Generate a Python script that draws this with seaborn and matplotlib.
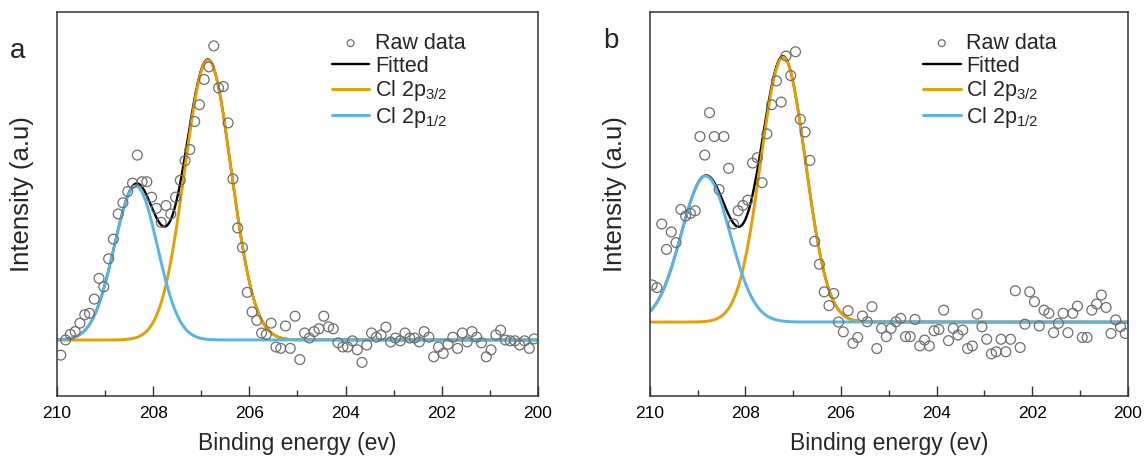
import numpy as np
import pandas as pd
import matplotlib
matplotlib.use('Agg')
import matplotlib.pyplot as plt
from matplotlib.ticker import MultipleLocator
import seaborn as sns

# raw data, 0.1 eV steps
energy_a = np.linspace(209.92, 200.08, 100)
intensity_a = [
    -0.054, 0.0, 0.02, 0.03, 0.06, 0.09, 0.095, 0.146, 0.22, 0.19,
    0.29, 0.36, 0.45, 0.49, 0.53, 0.56, 0.66, 0.565, 0.565, 0.51,
    0.47, 0.42, 0.48, 0.45, 0.51, 0.57, 0.64, 0.68, 0.78, 0.84,
    0.93, 0.975, 1.05, 0.90, 0.905, 0.775, 0.575, 0.40, 0.33, 0.17,
    0.10, 0.07, 0.025, 0.02, 0.06, -0.025, -0.03, 0.05, -0.03, 0.085,
    -0.07, 0.025, 0.007, 0.03, 0.04, 0.085, 0.047, 0.04, -0.01, -0.025,
    -0.025, -0.003, -0.035, -0.08, -0.018, 0.025, 0.01, 0.018, 0.046, -0.007,
    0.007, -0.003, 0.025, 0.007, 0.007, -0.007, 0.03, 0.01, -0.06, -0.025,
    -0.048, -0.015, 0.01, -0.03, 0.025, -0.007, 0.03, 0.01, -0.01, -0.06,
    -0.035, 0.018, 0.035, 0.0, -0.003, -0.003, -0.018, -0.003, -0.03, 0.004,
]
energy_b = np.linspace(209.95, 200.05, 100)
intensity_b = [
    0.14, 0.13, 0.37, 0.274, 0.34, 0.30, 0.425, 0.40, 0.41, 0.42,
    0.70, 0.63, 0.79, 0.70, 0.50, 0.70, 0.58, 0.37, 0.42, 0.44,
    0.46, 0.60, 0.62, 0.526, 0.71, 0.82, 0.91, 0.83, 1.004, 0.93,
    1.02, 0.765, 0.717, 0.61, 0.305, 0.218, 0.114, 0.062, 0.108, 0.0,
    -0.037, 0.043, -0.08, -0.058, 0.023, 0.001, 0.058, -0.1, -0.024, -0.055,
    -0.024, 0.001, 0.014, -0.055, -0.055, 0.01, -0.09, -0.068, -0.09, -0.033,
    -0.028, 0.045, -0.07, -0.024, -0.049, -0.03, -0.1, -0.09, 0.03, -0.018,
    -0.065, -0.12, -0.112, -0.065, -0.112, -0.065, 0.118, -0.096, -0.008, 0.114,
    0.077, -0.015, 0.045, 0.033, -0.04, -0.005, 0.033, -0.04, 0.033, 0.06,
    -0.058, -0.058, 0.045, 0.068, 0.102, 0.055, -0.043, 0.008, -0.018, -0.043,
]

# fitted Gaussian peaks: [Cl 2p3/2, Cl 2p1/2]
centre_a = [206.86, 208.36]
height_a = [1.0, 0.55]
sigma_a = [0.485, 0.45]
centre_b = [207.21, 208.83]
height_b = [1.0, 0.551]
sigma_b = [0.468, 0.51]

ylim_a = (-0.2, 1.171)
ylim_b = (-0.279, 1.17)

sns.set_style('ticks')
plt.rcParams['font.family'] = ['Liberation Sans', 'DejaVu Sans']
plt.rcParams['mathtext.fontset'] = 'custom'
plt.rcParams['mathtext.rm'] = 'Liberation Sans'

ORANGE = '#E69F00'
BLUE = '#56B4E9'


def peak(x, c, h, s):
    return h * np.exp(-(x - c) ** 2 / (2 * s ** 2))


def draw(ax, energy, intensity, centre, height, sigma, ylim, letter, letter_y):
    grid = np.linspace(210, 200, 1001)
    p32 = peak(grid, centre[0], height[0], sigma[0])
    p12 = peak(grid, centre[1], height[1], sigma[1])
    fit = pd.DataFrame({'E': grid, 'fit': p32 + p12, 'p32': p32, 'p12': p12})

    sns.scatterplot(x=energy, y=intensity, ax=ax, marker='o', s=50,
                    facecolor='none', edgecolor='#6e6e6e', linewidth=0.9,
                    label='Raw data', zorder=3)
    sns.lineplot(data=fit, x='E', y='fit', ax=ax, color='black', lw=1.7, label='Fitted')
    sns.lineplot(data=fit, x='E', y='p32', ax=ax, color=ORANGE, lw=2.1,
                 label='Cl 2p$\\mathregular{_{3/2}}$')
    sns.lineplot(data=fit, x='E', y='p12', ax=ax, color=BLUE, lw=2.1,
                 label='Cl 2p$\\mathregular{_{1/2}}$')

    ax.set_xlim(210, 200)
    ax.set_ylim(*ylim)
    ax.xaxis.set_major_locator(MultipleLocator(2))
    ax.xaxis.set_minor_locator(MultipleLocator(1))
    ax.tick_params(axis='x', which='major', direction='in', length=7, width=1,
                   labelsize=12.5, pad=7, colors='#333333', labelcolor='black')
    ax.tick_params(axis='x', which='minor', direction='in', length=4, width=1, colors='#333333')
    ax.set_yticks([])
    for sp in ax.spines.values():
        sp.set_visible(True)
        sp.set_color('#333333')
        sp.set_linewidth(1.1)
    ax.set_xlabel('Binding energy (ev)', fontsize=16.5, labelpad=8)
    ax.set_ylabel('Intensity (a.u)', fontsize=18.5)
    ax.yaxis.set_label_coords(-0.047, 0.525)

    h, l = ax.get_legend_handles_labels()
    order = [l.index('Raw data'), l.index('Fitted')] + [i for i, t in enumerate(l) if t.startswith('Cl')]
    ax.legend([h[i] for i in order], [l[i] for i in order], loc='upper left',
              bbox_to_anchor=(0.54, 0.985), frameon=False, fontsize=15.5,
              handlelength=1.75, handletextpad=0.25, labelspacing=0.08,
              markerscale=0.7, borderaxespad=0.3)
    ax.text(-0.082, letter_y, letter, transform=ax.transAxes, fontsize=20,
            ha='center', va='baseline')


fig = plt.figure(figsize=(11.46, 4.61), dpi=100)
ax_a = fig.add_axes([0.0497, 0.141, 0.4197, 0.833])
ax_b = fig.add_axes([0.567, 0.141, 0.417, 0.833])
draw(ax_a, energy_a, intensity_a, centre_a, height_a, sigma_a, ylim_a, 'a', 0.88)
draw(ax_b, energy_b, intensity_b, centre_b, height_b, sigma_b, ylim_b, 'b', 0.906)

fig.savefig('out.png', dpi=100)
